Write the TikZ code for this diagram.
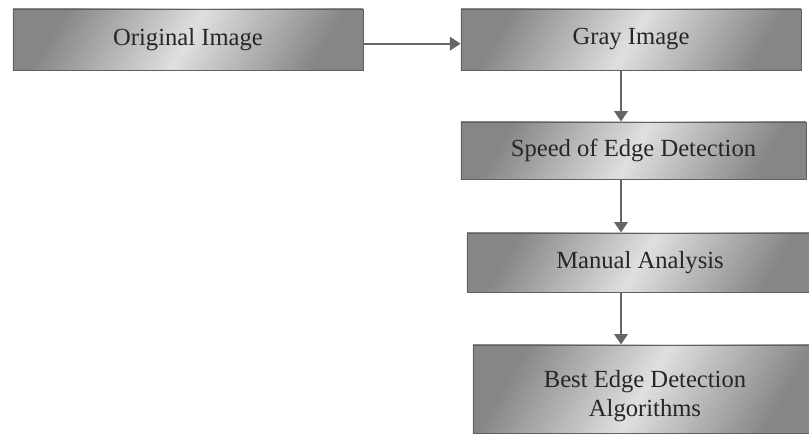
\documentclass[tikz,border=0pt]{standalone}
\usepackage{fontspec}
\setmainfont{Liberation Serif}
\usepackage{tikz}
\usetikzlibrary{arrows.meta, positioning, calc}

\begin{document}
\begin{tikzpicture}[x=0.025cm, y=-0.025cm,
      flow/.style = {draw=gray!80!black, line width=1.7pt, -{Triangle[width=9.5pt, length=7.5pt]}},
      stepbox/.style = {shape=rectangle, draw=gray!75!black, line width=0.6pt,
        left color=gray!95, right color=gray!95, middle color=gray!25, shading angle=60,
        align=center, inner sep=0pt, text=black!85,
        font=\fontsize{17.5}{20}\selectfont}]
    \useasboundingbox (0,0) rectangle (809,435);

    \node[stepbox, minimum width=8.75cm, minimum height=1.525cm] (orig) at (188,39.5) {Original Image};
    \node[stepbox, minimum width=8.5cm, minimum height=1.525cm] (gray) at (631,39.5) {Gray Image};
    \node[stepbox, minimum width=8.625cm, minimum height=1.425cm] (speed) at (633.5,150.5) {Speed of Edge Detection};
    \node[stepbox, minimum width=8.65cm, minimum height=1.475cm] (manual) at (640,262.5) {Manual Analysis};
    \node[stepbox, minimum width=8.6cm, minimum height=2.2cm] (best) at (645,389) {\rule{0pt}{22pt}Best Edge Detection\\[1pt] Algorithms};

    \coordinate (spine) at (621,0);

    \draw[flow] ([yshift=-3pt]orig.east) -- ([yshift=-3pt]gray.west);
    \draw[flow] (gray.south -| spine) -- (speed.north -| spine);
    \draw[flow] (speed.south -| spine) -- (manual.north -| spine);
    \draw[flow] (manual.south -| spine) -- (best.north -| spine);
\end{tikzpicture}
\end{document}
